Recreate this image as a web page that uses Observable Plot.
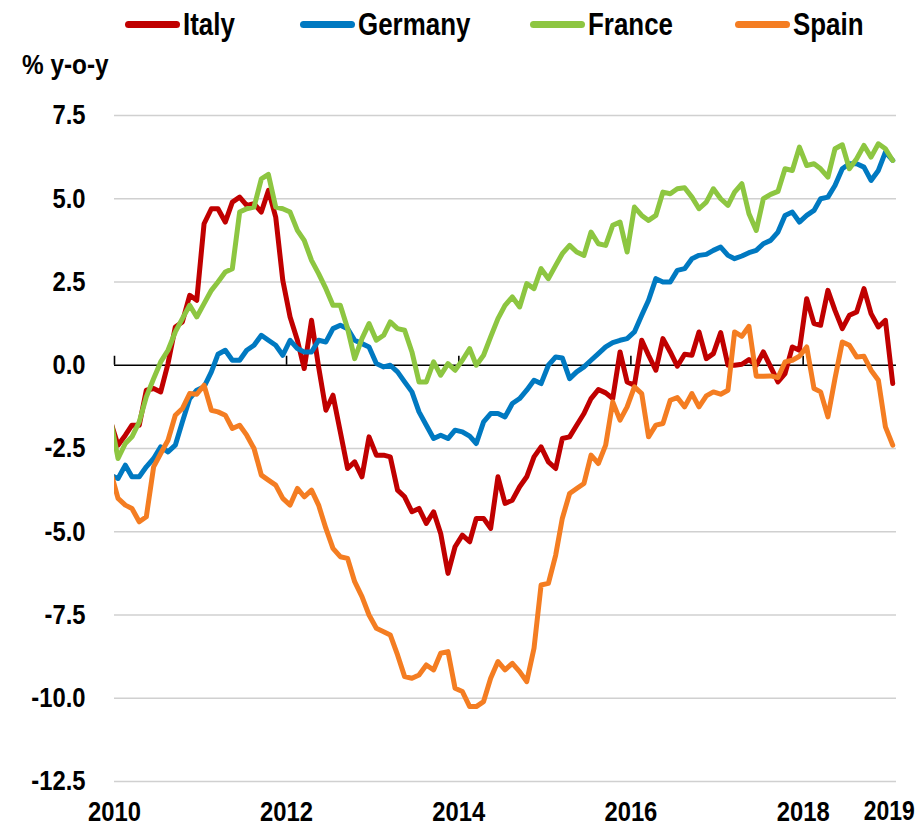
<!DOCTYPE html>
<html>
<head>
<meta charset="utf-8">
<script src="https://cdn.jsdelivr.net/npm/d3@7"></script>
<script src="https://cdn.jsdelivr.net/npm/@observablehq/plot@0.6"></script>
<style>
  body { margin: 0; background: #fff; }
  #wrap { position: relative; width: 918px; font-family: "Liberation Sans", Arial, sans-serif; font-weight: bold; color: #000; }
  #legend { position: relative; height: 48px; }
  .item { position: absolute; top: 0; height: 48px; display: flex; align-items: center; white-space: nowrap; }
  .sw { width: 55px; height: 7px; border-radius: 4px; margin-right: 3px; }
  .lab { display: inline-block; font-size: 32px; line-height: 32px; transform: scaleX(0.81); transform-origin: left center; }
  #ylab { position: absolute; left: 22px; top: 51px; font-size: 28px; line-height: 28px; z-index: 2; white-space: nowrap; transform: scaleX(0.87); transform-origin: left center; }
</style>
</head>
<body>
<div id="wrap">
  <div id="legend"></div>
  <div id="ylab">% y-o-y</div>
  <div id="chart"></div>
</div>
<script>
// ---- data (monthly, Dec 2009 .. Jan 2019) ----
const seriesNames = ["Italy", "Germany", "France", "Spain"];
const seriesColors = ["#C00000", "#0079C1", "#8DC641", "#F47D22"];

const italy = [
  -1.7, -2.4, -2.1, -1.8, -1.8, -0.75, -0.7, -0.8, 0.05, 1.15,
  1.3, 2.1, 1.95, 4.25, 4.7, 4.7, 4.3, 4.9, 5.05, 4.8,
  4.85, 4.6, 5.25, 4.45, 2.55, 1.45, 0.75, -0.1, 1.35, -0.05,
  -1.35, -0.9, -2.0, -3.1, -2.9, -3.35, -2.15, -2.7, -2.7, -2.75,
  -3.75, -3.95, -4.4, -4.3, -4.75, -4.4, -5.05, -6.25, -5.45, -5.1,
  -5.3, -4.6, -4.6, -4.9, -3.35, -4.15, -4.05, -3.65, -3.35, -2.75,
  -2.45, -2.9, -3.1, -2.2, -2.15, -1.8, -1.45, -1.0, -0.73, -0.83,
  -1.0, 0.4, -0.5, -0.6, 0.75, 0.3, -0.15, 0.8, 0.4, -0.03,
  0.33, 0.3, 1.0, 0.2, 0.35, 0.98, 0.0, 0.0, 0.03, 0.17,
  0.0, 0.4, -0.05, -0.5, -0.25, 0.55, 0.45, 2.0, 1.25, 1.2,
  2.25, 1.65, 1.1, 1.5, 1.6, 2.3, 1.55, 1.15, 1.35, -0.55
];
const germany = [
  -3.3, -3.4, -3.0, -3.35, -3.35, -3.05, -2.8, -2.45, -2.6, -2.4,
  -1.7, -1.0, -0.75, -0.65, -0.2, 0.33, 0.45, 0.15, 0.15, 0.45,
  0.6, 0.9, 0.75, 0.6, 0.3, 0.75, 0.5, 0.4, 0.4, 0.75,
  0.7, 1.1, 1.2, 1.1, 0.75, 0.65, 0.55, 0.05, -0.05, 0.0,
  -0.2, -0.5, -0.8, -1.4, -1.8, -2.2, -2.1, -2.2, -1.95, -2.0,
  -2.13, -2.35, -1.7, -1.45, -1.45, -1.55, -1.15, -1.0, -0.75, -0.45,
  -0.55, 0.0, 0.25, 0.22, -0.4, -0.2, -0.05, 0.15, 0.35, 0.55,
  0.68, 0.75, 0.8, 1.0, 1.5, 1.95, 2.6, 2.5, 2.5, 2.85,
  2.9, 3.2, 3.3, 3.33, 3.45, 3.55, 3.3, 3.2, 3.28, 3.38,
  3.45, 3.65, 3.75, 4.0, 4.5, 4.6, 4.3, 4.5, 4.65, 5.0,
  5.05, 5.4, 5.9, 6.05, 6.05, 5.95, 5.55, 5.85, 6.4, 6.15
];
const france = [
  -1.65, -2.8, -2.35, -2.15, -1.7, -0.95, -0.4, 0.1, 0.45, 1.0,
  1.4, 1.8, 1.45, 1.85, 2.25, 2.5, 2.8, 2.9, 4.6, 4.7,
  4.75, 5.6, 5.73, 4.75, 4.7, 4.6, 4.05, 3.75, 3.15, 2.75,
  2.3, 1.8, 1.8, 1.1, 0.2, 0.8, 1.25, 0.75, 0.9, 1.3,
  1.1, 1.05, 0.4, -0.5, -0.5, 0.1, -0.3, 0.05, -0.15, 0.15,
  0.5, 0.0, 0.3, 0.85, 1.4, 1.8, 2.05, 1.75, 2.45, 2.3,
  2.9, 2.6, 3.0, 3.35, 3.6, 3.4, 3.3, 4.0, 3.65, 3.6,
  4.2, 4.3, 3.4, 4.75, 4.5, 4.35, 4.5, 5.2, 5.15, 5.3,
  5.33, 5.05, 4.7, 4.9, 5.3, 5.0, 4.8, 5.2, 5.45, 4.55,
  4.05, 5.0, 5.13, 5.22, 5.9, 5.85, 6.55, 6.0, 6.05, 5.9,
  5.65, 6.5, 6.62, 5.9, 6.2, 6.6, 6.25, 6.65, 6.5, 6.15
];
const spain = [
  -3.2, -4.0, -4.2, -4.3, -4.7, -4.55, -3.05, -2.65, -2.25, -1.5,
  -1.3, -0.85, -0.87, -0.6, -1.35, -1.4, -1.5, -1.9, -1.8, -2.1,
  -2.5, -3.3, -3.45, -3.6, -4.0, -4.2, -3.7, -3.95, -3.75, -4.2,
  -4.9, -5.5, -5.75, -5.8, -6.5, -6.95, -7.5, -7.9, -8.0, -8.1,
  -8.7, -9.35, -9.4, -9.3, -9.0, -9.15, -8.65, -8.6, -9.7, -9.8,
  -10.25, -10.25, -10.1, -9.4, -8.9, -9.15, -8.95, -9.2, -9.5, -8.5,
  -6.6, -6.55, -5.7, -4.6, -3.85, -3.7, -3.55, -2.7, -2.95, -2.4,
  -1.1, -1.65, -1.25, -0.65, -0.85, -2.15, -1.8, -1.75, -1.05, -0.97,
  -1.25, -0.85, -1.25, -0.92, -0.8, -0.87, -0.75, 1.0, 0.87, 1.17,
  -0.33, -0.33, -0.32, -0.37, 0.1, 0.15, 0.27, 0.55, -0.7, -0.8,
  -1.55, -0.4, 0.7, 0.6, 0.25, 0.27, -0.15, -0.45, -1.85, -2.4
];

const yTicks = [-12.5, -10, -7.5, -5, -2.5, 0, 2.5, 5, 7.5];
const xTickYears = [2010, 2012, 2014, 2016, 2018];
const endLabel = ["2019"];

// ---- build ----
const months = d3.utcMonth.range(new Date(Date.UTC(2009, 11, 1)), new Date(Date.UTC(2019, 1, 1)));
const mid = months.map(d => d3.utcDay.offset(d, 15));
const values = [italy, germany, france, spain];
const rows = values.map((arr, s) => arr.map((v, i) => ({date: mid[i], value: v, series: seriesNames[s]})));
const xTickDates = xTickYears.map(y => new Date(Date.UTC(y, 0, 1)));
const endRows = endLabel.map(t => ({label: t, date: months[months.length - 1]}));

// legend (HTML, above the SVG)
const legendLefts = [125, 300, 530, 735];
const legend = document.getElementById("legend");
seriesNames.forEach((n, i) => {
  const it = document.createElement("div");
  it.className = "item";
  it.style.left = legendLefts[i] + "px";
  it.innerHTML = `<div class="sw" style="background:${seriesColors[i]}"></div><div class="lab">${n}</div>`;
  legend.appendChild(it);
});

const chart = Plot.plot({
  width: 918,
  height: 780,
  marginLeft: 114,
  marginRight: 22,
  marginTop: 67,
  marginBottom: 47,
  style: {fontFamily: '"Liberation Sans", Arial, sans-serif', fontSize: "28px", fontWeight: "bold", color: "#000", background: "#fff", overflow: "visible"},
  x: {type: "utc", domain: [new Date(Date.UTC(2010, 0, 1)), new Date(Date.UTC(2019, 1, 1))]},
  y: {domain: [-12.5, 7.5]},
  marks: [
    Plot.ruleY(yTicks.filter(d => d !== 0), {stroke: "#d0d0d0", strokeWidth: 1.6}),
    Plot.ruleY([0], {stroke: "#000", strokeWidth: 1.6}),
    Plot.ruleX(xTickDates, {y1: 0, y2: 0.27, stroke: "#000", strokeWidth: 1.6}),
    ...rows.map((r, s) => Plot.line(r, {x: "date", y: "value", stroke: seriesColors[s], strokeWidth: 5, strokeLinejoin: "round", clip: true})),
    Plot.axisY({ticks: yTicks, tickFormat: d => d.toFixed(1), tickSize: 0, tickPadding: 29, label: null}),
    Plot.axisX({ticks: xTickDates, tickFormat: d3.utcFormat("%Y"), tickSize: 0, tickPadding: 20, label: null}),
    Plot.text(endRows, {x: "date", text: "label", frameAnchor: "bottom", lineAnchor: "middle", dy: 30, fontSize: 27, fill: "#000"})
  ]
});

// narrow the bold labels horizontally (the reference uses a condensed face)
chart.querySelectorAll("text").forEach(t => {
  const x = +t.getAttribute("x") || 0, y = +t.getAttribute("y") || 0;
  const tr = t.getAttribute("transform") || "";
  t.setAttribute("transform", `${tr} translate(${x},${y}) scale(0.85,1) translate(${-x},${-y})`);
});
document.getElementById("chart").appendChild(chart);
</script>
</body>
</html>
